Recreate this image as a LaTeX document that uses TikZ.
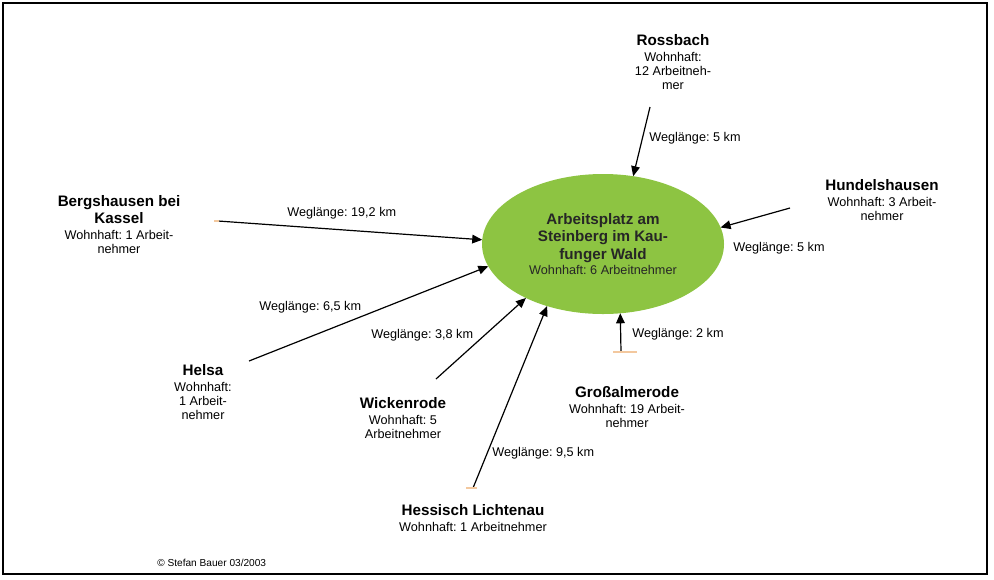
\documentclass[tikz,border=0pt]{standalone}
\usepackage{fontspec}
\setmainfont{Liberation Sans}
\usepackage{tikz}
\usetikzlibrary{shapes.geometric,arrows.meta}
\frenchspacing

\definecolor{waldgruen}{RGB}{141,196,66}
\definecolor{punkt}{RGB}{243,200,158}
\newcommand{\ortname}[1]{{\fontsize{11.4}{13}\selectfont\bfseries #1}}

\begin{document}
\begin{tikzpicture}[x=0.75pt,y=0.75pt,yscale=-1,xscale=1,
  ort/.style={anchor=north,align=center,inner sep=0pt,font={\fontsize{9.5}{10.5}\selectfont\lineskiplimit=-5pt}},
  weg/.style={anchor=base west,inner sep=0pt,font=\fontsize{9.5}{10.5}\selectfont},
  pfeil/.style={line width=0.9pt,-{Triangle[length=7.5pt,width=6.5pt]}},
  marke/.style={draw=punkt,line width=0.8pt}]
\useasboundingbox (0,0) rectangle (994,579);

%Frame
\draw [line width=1.1pt] (3,3) rectangle (987,574);

%Shape: Ellipse
\node [ellipse,fill=waldgruen,minimum width=181.5pt,minimum height=105pt,inner sep=0pt,outer sep=0pt,
  align=center,text=black!85,font={\fontsize{11.4}{13}\selectfont\lineskiplimit=-5pt}] (arbeitsplatz) at (603,244)
  {\ortname{Arbeitsplatz am}\\\ortname{Steinberg im Kau-}\\\ortname{funger Wald}\\[-1.8pt]{\fontsize{9.5}{10.5}\selectfont Wohnhaft: 6 Arbeitnehmer}};

% Text Node
\node [ort] (rossbach) at (673,34) {\ortname{Rossbach}\\[1.5pt]Wohnhaft:\\12 Arbeitneh-\\mer};
% Text Node
\node [ort] (hundelshausen) at (882,179) {\ortname{Hundelshausen}\\[1.5pt]Wohnhaft: 3 Arbeit-\\nehmer};
% Text Node
\node [ort] (bergshausen) at (119,195) {\ortname{Bergshausen bei}\\[2.25pt]\ortname{Kassel}\\[1.5pt]Wohnhaft: 1 Arbeit-\\nehmer};
% Text Node
\node [ort] (helsa) at (203,364) {\ortname{Helsa}\\[1.5pt]Wohnhaft:\\1 Arbeit-\\nehmer};
% Text Node
\node [ort] (wickenrode) at (403,397) {\ortname{Wickenrode}\\[1.5pt]Wohnhaft: 5\\Arbeitnehmer};
% Text Node
\node [ort] (lichtenau) at (473,504) {\ortname{Hessisch Lichtenau}\\[1.5pt]Wohnhaft: 1 Arbeitnehmer};
% Text Node
\node [ort] (grossalmerode) at (627,386) {\ortname{Großalmerode}\\[1.5pt]Wohnhaft: 19 Arbeit-\\nehmer};

%Free ends
\coordinate (rossbach-ab) at (650,107);
\coordinate (hundelshausen-ab) at (790,208);
\coordinate (bergshausen-ab) at (218,221);
\coordinate (helsa-ab) at (249,361);
\coordinate (wickenrode-ab) at (436,379);
\coordinate (lichtenau-ab) at (473,488);
\coordinate (grossalmerode-ab) at (621,352);

%Straight Lines
\draw [pfeil] (rossbach-ab) -- (arbeitsplatz.66);
\draw [pfeil] (hundelshausen-ab) -- (arbeitsplatz.8);
\draw [pfeil] (bergshausen-ab) -- (arbeitsplatz.178.6);
\draw [pfeil] (helsa-ab) -- (arbeitsplatz.191);
\draw [pfeil] (wickenrode-ab) -- (arbeitsplatz.215);
\draw [pfeil] (lichtenau-ab) -- (arbeitsplatz.228);
\draw [pfeil] (grossalmerode-ab) -- (arbeitsplatz.284.6);

%Small marks at the free ends
\draw [marke] ([xshift=-3pt]bergshausen-ab) -- ([xshift=1pt]bergshausen-ab);
\draw [marke] ([xshift=-6pt]grossalmerode-ab) -- ([xshift=12pt]grossalmerode-ab);
\draw [marke] ([xshift=-5pt]lichtenau-ab) -- ([xshift=3pt]lichtenau-ab);

% Text Node
\node [weg] (weg-rossbach) at (649,141) {Weglänge: 5 km};
% Text Node
\node [weg] (weg-hundelshausen) at (733,251) {Weglänge: 5 km};
% Text Node
\node [weg] (weg-bergshausen) at (287,216) {Weglänge: 19,2 km};
% Text Node
\node [weg] (weg-helsa) at (259,310) {Weglänge: 6,5 km};
% Text Node
\node [weg] (weg-wickenrode) at (371,338) {Weglänge: 3,8 km};
% Text Node
\node [weg] (weg-lichtenau) at (492,456) {Weglänge: 9,5 km};
% Text Node
\node [weg] (weg-grossalmerode) at (632,337) {Weglänge: 2 km};

% Text Node
\node [anchor=base west,inner sep=0pt,font=\fontsize{7.6}{9}\selectfont] (copyright) at (157,566) {© Stefan Bauer 03/2003};

\end{tikzpicture}
\end{document}
